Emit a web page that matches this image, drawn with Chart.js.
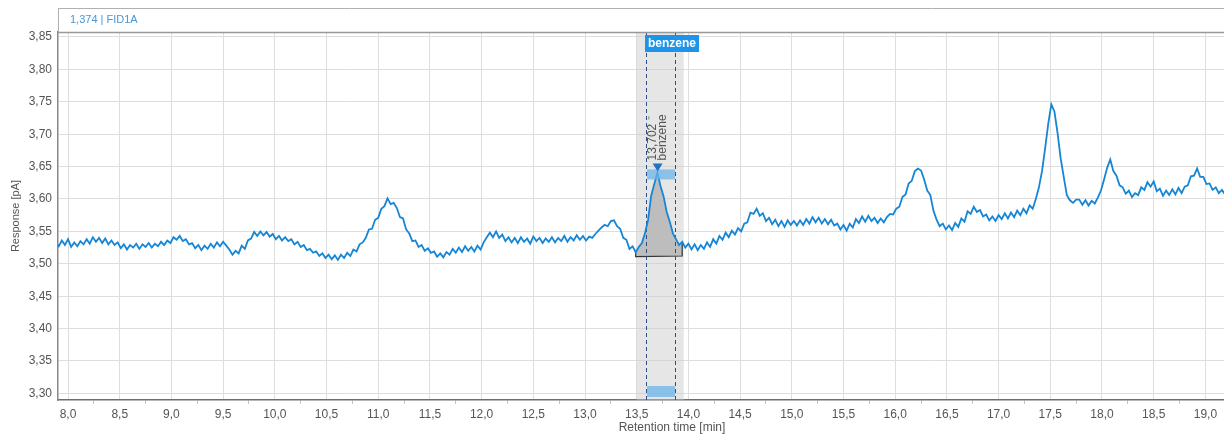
<!DOCTYPE html>
<html>
<head>
<meta charset="utf-8">
<title>FID1A chromatogram</title>
<script src="https://cdn.jsdelivr.net/npm/chart.js@4/dist/chart.umd.min.js"></script>
<style>
  html, body { margin: 0; padding: 0; background: #ffffff; }
  canvas { display: block; }
</style>
</head>
<body>
<canvas id="chrom" width="1224" height="438"></canvas>
<script>
// Detector trace sampling (min)
const sampleStart = 7.88;
const sampleStep = 0.03;

// FID1A response [pA], one value per sample
const response = [
  3.534, 3.527, 3.536, 3.529, 3.538, 3.526, 3.533, 3.527, 3.535, 3.530,
  3.538, 3.531, 3.541, 3.534, 3.540, 3.532, 3.539, 3.530, 3.536, 3.529,
  3.533, 3.524, 3.530, 3.522, 3.529, 3.525, 3.531, 3.523, 3.530, 3.526,
  3.532, 3.525, 3.531, 3.527, 3.534, 3.529, 3.536, 3.532, 3.541, 3.537,
  3.543, 3.535, 3.538, 3.530, 3.532, 3.524, 3.529, 3.521, 3.528, 3.523,
  3.531, 3.525, 3.533, 3.527, 3.534, 3.528, 3.522, 3.514, 3.520, 3.516,
  3.528, 3.523, 3.536, 3.539, 3.549, 3.543, 3.550, 3.544, 3.549, 3.542,
  3.546, 3.538, 3.543, 3.536, 3.541, 3.535, 3.538, 3.530, 3.534, 3.526,
  3.529, 3.521, 3.523, 3.517, 3.519, 3.512, 3.516, 3.509, 3.514, 3.507,
  3.513, 3.506, 3.514, 3.509, 3.517, 3.512, 3.522, 3.519, 3.530, 3.533,
  3.540, 3.553, 3.554, 3.568, 3.571, 3.585, 3.589, 3.601, 3.592, 3.594,
  3.586, 3.572, 3.570, 3.553, 3.547, 3.535, 3.536, 3.526, 3.529, 3.520,
  3.524, 3.517, 3.519, 3.511, 3.516, 3.510, 3.518, 3.514, 3.523, 3.517,
  3.525, 3.518, 3.527, 3.520, 3.526, 3.519, 3.528, 3.522, 3.533, 3.541,
  3.548, 3.541, 3.550, 3.540, 3.545, 3.535, 3.541, 3.533, 3.540, 3.532,
  3.541, 3.534, 3.539, 3.531, 3.542, 3.535, 3.540, 3.532, 3.539, 3.534,
  3.541, 3.533, 3.540, 3.535, 3.543, 3.534, 3.541, 3.536, 3.544, 3.537,
  3.543, 3.536, 3.542, 3.540, 3.546, 3.551, 3.556, 3.560, 3.558, 3.566,
  3.567, 3.558, 3.554, 3.540, 3.537, 3.523, 3.527, 3.518, 3.526, 3.532,
  3.547, 3.568, 3.605, 3.623, 3.641, 3.620, 3.604, 3.580, 3.565, 3.547,
  3.538, 3.529, 3.534, 3.525, 3.531, 3.522, 3.530, 3.521, 3.529, 3.523,
  3.533, 3.526, 3.538, 3.531, 3.543, 3.537, 3.548, 3.541, 3.551, 3.545,
  3.555, 3.550, 3.562, 3.564, 3.579, 3.577, 3.585, 3.574, 3.578, 3.566,
  3.571, 3.561, 3.568, 3.558, 3.566, 3.557, 3.567, 3.560, 3.566, 3.559,
  3.567, 3.560, 3.569, 3.562, 3.572, 3.564, 3.571, 3.562, 3.569, 3.561,
  3.568, 3.559, 3.562, 3.553, 3.560, 3.551, 3.562, 3.556, 3.569, 3.563,
  3.573, 3.565, 3.574, 3.566, 3.571, 3.563, 3.570, 3.564, 3.572, 3.577,
  3.576, 3.585, 3.588, 3.603, 3.607, 3.624, 3.628, 3.643, 3.647, 3.644,
  3.630, 3.613, 3.606, 3.582, 3.568, 3.558, 3.562, 3.553, 3.559, 3.552,
  3.563, 3.557, 3.570, 3.565, 3.581, 3.577, 3.588, 3.580, 3.583, 3.573,
  3.576, 3.567, 3.573, 3.566, 3.575, 3.569, 3.578, 3.570, 3.579, 3.572,
  3.582, 3.575, 3.585, 3.578, 3.590, 3.585, 3.600, 3.618, 3.643, 3.678,
  3.716, 3.746, 3.735, 3.702, 3.663, 3.634, 3.606, 3.598, 3.594, 3.599,
  3.599, 3.591, 3.598, 3.590, 3.597, 3.593, 3.602, 3.613, 3.630, 3.648,
  3.661, 3.643, 3.636, 3.621, 3.618, 3.608, 3.613, 3.603, 3.609, 3.606,
  3.618, 3.614, 3.626, 3.619, 3.627, 3.612, 3.616, 3.605, 3.613, 3.606,
  3.615, 3.607, 3.617, 3.609, 3.619, 3.621, 3.635, 3.636, 3.647, 3.634,
  3.634, 3.623, 3.624, 3.614, 3.618, 3.609, 3.614, 3.607
];

const retentionTimes = response.map((_, i) => +(sampleStart + i * sampleStep).toFixed(2));

// Axis ranges
const xRange = [7.903, 19.18];
const yRange = [3.2898, 3.8577];

// Identified peak
const peakName = 'benzene';
const peakRT = 13.702;
const peakWindow = [13.50, 13.955];      // shaded integration window
const peakMarkers = [13.59, 13.87];      // dashed limits
const peakBaseline = [[13.49, 3.511], [13.94, 3.512]];

const signalName = '1,374 | FID1A';
const xTitle = 'Retention time [min]';
const yTitle = 'Response [pA]';

const FONT = "'Liberation Sans', Arial, sans-serif";
const comma = (v, d) => v.toFixed(d).replace('.', ',');
const near = (a, b) => Math.abs(a - b) < 1e-6;
const isHalf = v => near(Math.round(v * 2), v * 2);

const peakPlugin = {
  id: 'peakPlugin',
  beforeDatasetsDraw(chart) {
    const { ctx, chartArea: a, scales: { x, y } } = chart;
    ctx.save();
    // integration window shading
    const bx0 = x.getPixelForValue(peakWindow[0]);
    const bx1 = x.getPixelForValue(peakWindow[1]);
    ctx.fillStyle = 'rgba(200,200,200,0.45)';
    ctx.fillRect(bx0, a.top, bx1 - bx0, a.bottom - a.top);

    // filled peak area between trace and baseline
    const [b0, b1] = peakBaseline;
    const pts = [];
    retentionTimes.forEach((t, i) => {
      if (t >= b0[0] - 1e-9 && t <= b1[0] + 1e-9) pts.push([x.getPixelForValue(t), y.getPixelForValue(response[i])]);
    });
    const p0 = [x.getPixelForValue(b0[0]), y.getPixelForValue(b0[1])];
    const p1 = [x.getPixelForValue(b1[0]), y.getPixelForValue(b1[1])];
    ctx.beginPath();
    ctx.moveTo(p0[0], p0[1]);
    pts.forEach(p => ctx.lineTo(p[0], p[1]));
    ctx.lineTo(p1[0], p1[1]);
    ctx.closePath();
    ctx.fillStyle = '#bdbdbd';
    ctx.fill();
    ctx.beginPath();
    ctx.moveTo(pts[0][0], pts[0][1]);
    ctx.lineTo(p0[0], p0[1]);
    ctx.lineTo(p1[0], p1[1]);
    ctx.lineTo(pts[pts.length - 1][0], pts[pts.length - 1][1]);
    ctx.strokeStyle = '#333333';
    ctx.lineWidth = 1.2;
    ctx.stroke();

    // dashed peak limits
    ctx.setLineDash([4, 3]);
    ctx.strokeStyle = '#2b4f8a';
    ctx.lineWidth = 1;
    peakMarkers.forEach(v => {
      const px = Math.round(x.getPixelForValue(v)) + 0.5;
      ctx.beginPath();
      ctx.moveTo(px, a.top);
      ctx.lineTo(px, a.bottom);
      ctx.stroke();
    });
    ctx.restore();
  },
  afterDatasetsDraw(chart) {
    const { ctx, chartArea: a, scales: { x, y } } = chart;
    ctx.save();
    const m0 = x.getPixelForValue(peakMarkers[0]);
    const m1 = x.getPixelForValue(peakMarkers[1]);
    const idx = retentionTimes.findIndex(t => near(t, 13.70));
    const apexY = y.getPixelForValue(response[idx]);
    const apexX = x.getPixelForValue(peakRT);

    // apex band and bottom band
    ctx.fillStyle = 'rgba(110,180,235,0.75)';
    ctx.fillRect(m0 + 1, apexY - 3, m1 - m0 - 1, 10);
    ctx.fillRect(m0 + 1, a.bottom - 14, m1 - m0 - 1, 11);

    // apex marker
    ctx.fillStyle = '#1f73c0';
    ctx.beginPath();
    ctx.moveTo(apexX - 5, apexY - 9);
    ctx.lineTo(apexX + 5, apexY - 9);
    ctx.lineTo(apexX, apexY - 1);
    ctx.closePath();
    ctx.fill();

    // rotated retention time / name
    ctx.fillStyle = '#555555';
    ctx.font = `12px ${FONT}`;
    ctx.textAlign = 'left';
    ctx.textBaseline = 'middle';
    ctx.translate(apexX - 5, apexY - 12);
    ctx.rotate(-Math.PI / 2);
    ctx.fillText(comma(peakRT, 3) + ' \u207B', 0, 0);
    ctx.fillText(peakName, 0, 10.5);
    ctx.restore();

    // name tag at top
    ctx.save();
    ctx.font = `bold 12px ${FONT}`;
    const tw = ctx.measureText(peakName).width;
    const tx = m0 - 1;
    ctx.fillStyle = '#1e94e8';
    ctx.fillRect(tx, a.top + 3, tw + 6, 17);
    ctx.fillStyle = '#ffffff';
    ctx.textAlign = 'left';
    ctx.textBaseline = 'middle';
    ctx.fillText(peakName, tx + 3, a.top + 11.5);
    ctx.restore();
  },
  afterDraw(chart) {
    const { ctx, chartArea: a } = chart;
    ctx.save();
    // signal header strip
    ctx.strokeStyle = '#b0b0b0';
    ctx.lineWidth = 1;
    ctx.beginPath();
    ctx.moveTo(a.left, 8.5);
    ctx.lineTo(a.right, 8.5);
    ctx.moveTo(a.left + 0.5, 8);
    ctx.lineTo(a.left + 0.5, a.top);
    ctx.stroke();
    ctx.strokeStyle = '#999999';
    ctx.lineWidth = 1.5;
    ctx.beginPath();
    ctx.moveTo(a.left, a.top + 0.5);
    ctx.lineTo(a.right, a.top + 0.5);
    ctx.stroke();
    ctx.fillStyle = '#4a97d3';
    ctx.font = `11px ${FONT}`;
    ctx.textBaseline = 'middle';
    ctx.textAlign = 'left';
    ctx.fillText(signalName, a.left + 12, 20);

    // axis titles
    ctx.fillStyle = '#555555';
    ctx.font = `12px ${FONT}`;
    ctx.textAlign = 'center';
    ctx.fillText(xTitle, 672, 428);
    ctx.font = `11px ${FONT}`;
    ctx.translate(16, (a.top + a.bottom) / 2);
    ctx.rotate(-Math.PI / 2);
    ctx.fillText(yTitle, 0, 0);
    ctx.restore();
  }
};

new Chart(document.getElementById('chrom'), {
  type: 'line',
  data: {
    datasets: [{
      label: signalName,
      data: retentionTimes.map((t, i) => ({ x: t, y: response[i] })),
      borderColor: '#1585d5',
      borderWidth: 1.8,
      pointRadius: 0,
      tension: 0,
      fill: false
    }]
  },
  options: {
    responsive: false,
    devicePixelRatio: 1,
    animation: false,
    events: [],
    layout: { padding: { top: 32, right: 0, bottom: 0, left: 0 } },
    plugins: { legend: { display: false }, tooltip: { enabled: false } },
    scales: {
      x: {
        type: 'linear',
        min: xRange[0],
        max: xRange[1],
        afterFit(s) { s.height = 38; },
        border: { color: '#6e6e6e', width: 1.5 },
        grid: {
          color: c => (c.tick && isHalf(c.tick.value)) ? '#dedede' : 'rgba(0,0,0,0)',
          tickColor: c => (c.tick && isHalf(c.tick.value)) ? 'rgba(0,0,0,0)' : '#c4c4c4',
          tickLength: 4,
          lineWidth: 1
        },
        ticks: {
          stepSize: 0.25,
          includeBounds: false,
          autoSkip: false,
          maxRotation: 0,
          padding: 3,
          color: '#555555',
          font: { family: FONT, size: 12 },
          callback: v => isHalf(v) ? comma(v, 1) : ''
        }
      },
      y: {
        type: 'linear',
        min: yRange[0],
        max: yRange[1],
        afterFit(s) { s.width = 58; },
        border: { color: '#888888', width: 1.5 },
        grid: { color: '#dedede', drawTicks: false, lineWidth: 1 },
        ticks: {
          stepSize: 0.05,
          includeBounds: false,
          padding: 6,
          color: '#555555',
          font: { family: FONT, size: 12 },
          callback: v => comma(v, 2)
        }
      }
    }
  },
  plugins: [peakPlugin]
});
</script>
</body>
</html>
